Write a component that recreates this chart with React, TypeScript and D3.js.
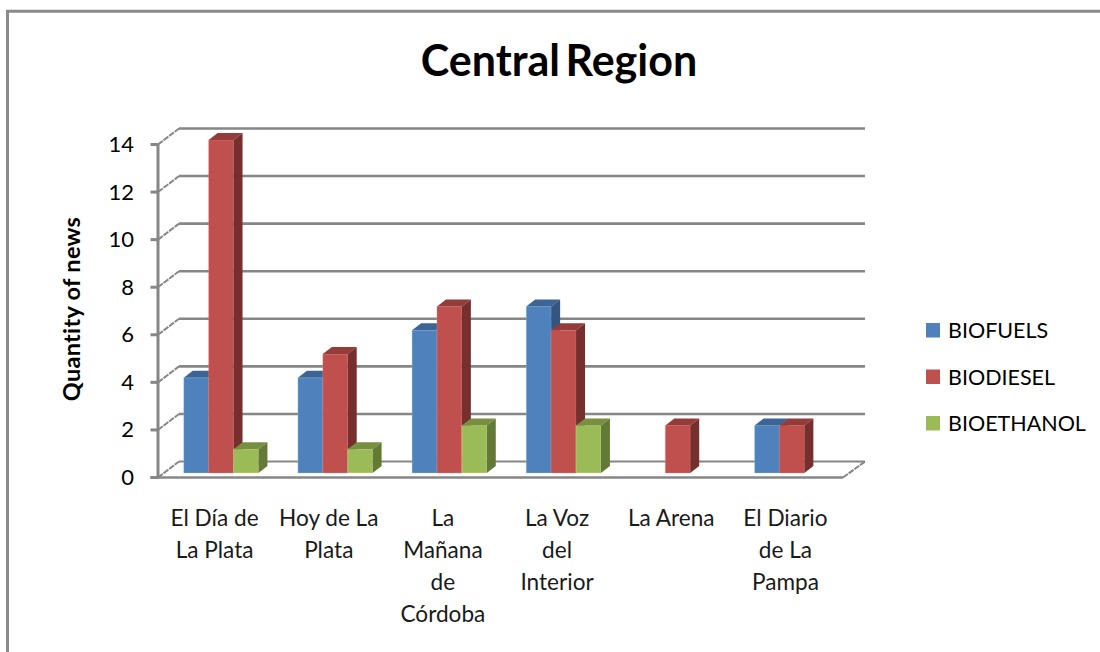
import React from "react";
import * as d3 from "d3";

const categories: string[][] = [
  ["El Día de", "La Plata"],
  ["Hoy de La", "Plata"],
  ["La", "Mañana", "de", "Córdoba"],
  ["La Voz", "del", "Interior"],
  ["La Arena"],
  ["El Diario", "de La", "Pampa"],
];
const seriesNames = ["BIOFUELS", "BIODIESEL", "BIOETHANOL"];
const biofuels = [4, 4, 6, 7, 0, 2];
const biodiesel = [14, 5, 7, 6, 2, 2];
const bioethanol = [1, 1, 2, 2, 0, 0];
const seriesValues = [biofuels, biodiesel, bioethanol];
const yTicks = [0, 2, 4, 6, 8, 10, 12, 14];
const title = "Central Region";
const yTitle = "Quantity of news";

const front = "#4f81bd,#c0504d,#9bbb59".split(",");
const topC = "#3c6494,#933c3a,#76903f".split(",");
const sideC = "#335580,#772f2e,#637a36".split(",");
const GRID = "#868686";
const FONT = "Lato, Carlito, 'Open Sans', sans-serif";

const W = 1100, H = 652;
const wallDx = 21, wallDy = -16;
const barDx = 9, barDy = -7;
const y = d3.scaleLinear().domain([0, 14]).range([477.5, 144.5]);
const x0 = d3.scaleBand<number>().domain(d3.range(6)).range([158, 843]);
const barW = 24.9;
const barOffsetX = 6, barOffsetY = -4.5;

export default function App() {
  return (
    <svg width={W} height={H} style={{ position: "absolute", left: 0, top: 0, background: "#fff" }} fontFamily={FONT}>
      <path d={`M7.5 ${H}V11.3H${W}`} fill="none" stroke="#8a8a8a" strokeWidth={3} />
      <text x={559} y={76} textAnchor="middle" fontSize={43} fontWeight={700} wordSpacing={-5} fill="#000">{title}</text>

      {yTicks.map((t) => (
        <g key={t}>
          <line x1={158 + wallDx} x2={865} y1={y(t) + wallDy} y2={y(t) + wallDy} stroke={GRID} strokeWidth={t > 0 ? 2.6 : 2} />
          <line x1={158} x2={158 + wallDx} y1={y(t)} y2={y(t) + wallDy} stroke={GRID} strokeWidth={2} strokeDasharray="6 1" />
          <line x1={150.5} x2={158} y1={y(t)} y2={y(t)} stroke={GRID} strokeWidth={3} />
          <text x={134} y={y(t) + 7.5} textAnchor="end" fontSize={22} fill="#000">{t}</text>
        </g>
      ))}
      <line x1={158} x2={158} y1={y(14) - 1} y2={y(0) + 1} stroke={GRID} strokeWidth={3} />
      <line x1={150.5} x2={843} y1={y(0)} y2={y(0)} stroke={GRID} strokeWidth={2.6} />
      <line x1={843} x2={865} y1={y(0)} y2={y(0) + wallDy} stroke={GRID} strokeWidth={2} strokeDasharray="6 1" />

      {categories.map((_, i) => {
        const start = (x0(i) as number) + (x0.bandwidth() - 3 * barW) / 2 + barOffsetX;
        return (
          <g key={i}>
            {seriesValues.map((vals, s) => {
              const v = vals[i];
              if (!v) return null;
              const xL = start + s * barW;
              const xR = xL + barW;
              const yT = y(v) + barOffsetY;
              const yB = y(0) + barOffsetY;
              return (
                <g key={s}>
                  <rect x={xL} y={yT} width={barW} height={yB - yT} fill={front[s]} stroke={d3.color(front[s])!.brighter(1.6).formatHex()} strokeOpacity={0.3} strokeWidth={1} />
                  <path d={`M${xL} ${yT}l${barDx} ${barDy}h${barW}l${-barDx} ${-barDy}z`} fill={topC[s]} />
                  <path d={`M${xR} ${yT}l${barDx} ${barDy}V${yB + barDy}l${-barDx} ${-barDy}z`} fill={sideC[s]} />
                </g>
              );
            })}
            <text textAnchor="middle" fontSize={22.6} fill="#1a1a1a">
              {categories[i].map((ln, k) => (
                <tspan key={k} x={(x0(i) as number) + x0.bandwidth() / 2 - 0.5} y={525.5 + k * 32}>{ln}</tspan>
              ))}
            </text>
          </g>
        );
      })}

      <text transform="translate(80,309) rotate(-90)" textAnchor="middle" fontSize={23.5} fontWeight={700} letterSpacing={0.3} fill="#000">{yTitle}</text>

      {seriesNames.map((n, s) => {
        const ly = d3.scaleLinear().domain([0, 2]).range([323, 416])(s);
        return (
          <g key={n}>
            <rect x={926} y={ly} width={14} height={14.5} fill={front[s]} />
            <text x={948} y={ly + 15} fontSize={21.5} fill="#000">{n}</text>
          </g>
        );
      })}
    </svg>
  );
}
